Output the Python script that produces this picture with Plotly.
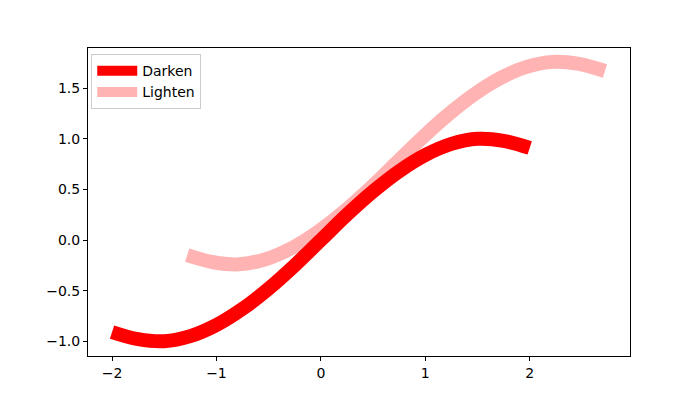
import plotly.graph_objects as go

darken_x = [-2.0, -1.75, -1.5, -1.25, -1.0, -0.75, -0.5, -0.25, 0.0, 0.25, 0.5, 0.75, 1.0, 1.25, 1.5, 1.75, 2.0]
darken_y = [-0.91, -0.98, -1.0, -0.95, -0.84, -0.68, -0.48, -0.25, 0.0, 0.25, 0.48, 0.68, 0.84, 0.95, 1.0, 0.98, 0.91]

lighten_x = [-1.28, -1.03, -0.78, -0.53, -0.28, -0.03, 0.22, 0.47, 0.72, 0.97, 1.22, 1.47, 1.72, 1.97, 2.22, 2.47, 2.72]
lighten_y = [-0.15, -0.22, -0.24, -0.19, -0.08, 0.08, 0.28, 0.51, 0.76, 1.01, 1.24, 1.44, 1.60, 1.71, 1.76, 1.74, 1.67]

x_ticks = [-2, -1, 0, 1, 2]
x_labels = ["\u22122", "\u22121", "0", "1", "2"]
y_ticks = [-1.0, -0.5, 0.0, 0.5, 1.0, 1.5]
y_labels = ["\u22121.0", "\u22120.5", "0.0", "0.5", "1.0", "1.5"]

fig = go.Figure()
fig.add_trace(go.Scatter(x=lighten_x, y=lighten_y, mode="lines", name="Lighten",
                         line=dict(color="#ffb3b3", width=14, shape="spline"), legendrank=2))
fig.add_trace(go.Scatter(x=darken_x, y=darken_y, mode="lines", name="Darken",
                         line=dict(color="#ff0000", width=14, shape="spline"), legendrank=1))

axis_common = dict(showgrid=False, zeroline=False, showline=True, linecolor="black", linewidth=1,
                   mirror=True, ticks="outside", ticklen=4, tickcolor="black",
                   tickfont=dict(family="DejaVu Sans", size=14, color="black"))

fig.update_layout(
    width=700, height=400,
    margin=dict(l=79.5, r=78, t=40, b=52),
    paper_bgcolor="white", plot_bgcolor="white",
    xaxis=dict(range=[-2.23, 2.96], tickvals=x_ticks, ticktext=x_labels, **axis_common),
    yaxis=dict(range=[-1.146, 1.897], tickvals=y_ticks, ticktext=y_labels, **axis_common),
    legend=dict(x=0.006, y=0.98, xanchor="left", yanchor="top", bgcolor="rgba(255,255,255,0.8)",
                bordercolor="#cccccc", borderwidth=1,
                font=dict(family="DejaVu Sans", size=14, color="black"),
                itemwidth=40, tracegroupgap=0),
    showlegend=True,
)

fig.write_html("out.html")
